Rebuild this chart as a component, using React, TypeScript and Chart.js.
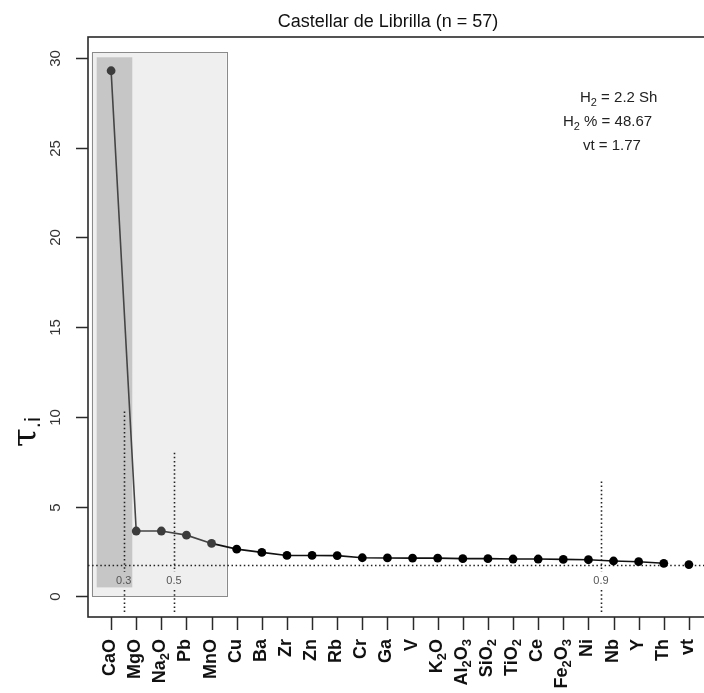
import { useEffect, useRef } from "react";
import { Chart, registerables } from "chart.js";

Chart.register(...registerables);

// ---- data ----
const categories = [
  "CaO", "MgO", "Na_2O", "Pb", "MnO", "Cu", "Ba", "Zr", "Zn", "Rb", "Cr", "Ga",
  "V", "K_2O", "Al_2O_3", "SiO_2", "TiO_2", "Ce", "Fe_2O_3", "Ni", "Nb", "Y", "Th", "vt",
];
const tauValues = [
  29.28, 3.64, 3.64, 3.41, 2.95, 2.63, 2.45, 2.28, 2.28, 2.27, 2.15, 2.14,
  2.13, 2.13, 2.1, 2.1, 2.08, 2.08, 2.06, 2.04, 1.97, 1.93, 1.84,
];
const vtValue = 1.77;
const yTicks = [0, 5, 10, 15, 20, 25, 30];
const cutoffLabels = ["0.3", "0.5", "0.9"];
const cutoffPositions = [1.5, 3.5, 20.5];
const cutoffHeights = [10.3, 8.0, 6.4];
const titleText = "Castellar de Librilla (n = 57)";
const statsLines = ["H_2 = 2.2 Sh", "H_2 % = 48.67", "vt = 1.77"];

// ---- layout / style constants ----
const FONT = "'Liberation Sans', Arial, sans-serif";
const CANVAS_W = 724;
const CANVAS_H = 693;
const lightRect = { x0: 0.227, x1: 5.6, y0: 0, y1: 30.3 };
const darkRect = { x0: 0.426, x1: 1.843, y0: 0.5, y1: 30.03 };
const statsPos = [
  { x: 580, y: 102 },
  { x: 563, y: 126 },
  { x: 583, y: 150 },
];

type Run = { t: string; sub: boolean };
function parseRich(s: string): Run[] {
  const runs: Run[] = [];
  for (let i = 0; i < s.length; i++) {
    if (s[i] === "_" && i + 1 < s.length) {
      runs.push({ t: s[i + 1], sub: true });
      i++;
    } else {
      const last = runs[runs.length - 1];
      if (last && !last.sub) last.t += s[i];
      else runs.push({ t: s[i], sub: false });
    }
  }
  return runs;
}

function richWidth(ctx: CanvasRenderingContext2D, runs: Run[], size: number, weight: string) {
  let w = 0;
  for (const r of runs) {
    ctx.font = `${weight} ${r.sub ? Math.round(size * 0.7) : size}px ${FONT}`;
    w += ctx.measureText(r.t).width;
  }
  return w;
}

function drawRich(
  ctx: CanvasRenderingContext2D,
  text: string,
  x: number,
  y: number,
  size: number,
  weight: string,
  align: "left" | "right"
) {
  const runs = parseRich(text);
  const w = richWidth(ctx, runs, size, weight);
  let cx = align === "right" ? x - w : x;
  ctx.textAlign = "left";
  for (const r of runs) {
    const s = r.sub ? Math.round(size * 0.7) : size;
    ctx.font = `${weight} ${s}px ${FONT}`;
    ctx.fillText(r.t, cx, r.sub ? y + size * 0.28 : y);
    cx += ctx.measureText(r.t).width;
  }
}

const overlay = {
  id: "overlay",
  beforeDatasetsDraw(chart: any) {
    const { ctx, chartArea } = chart;
    const xs = chart.scales.x;
    const ys = chart.scales.y;
    ctx.save();
    // light rectangle
    const lx0 = xs.getPixelForValue(lightRect.x0);
    const lx1 = xs.getPixelForValue(lightRect.x1);
    const ly0 = ys.getPixelForValue(lightRect.y0);
    const ly1 = ys.getPixelForValue(lightRect.y1);
    ctx.fillStyle = "#efefef";
    ctx.fillRect(lx0, ly1, lx1 - lx0, ly0 - ly1);
    ctx.strokeStyle = "#8a8a8a";
    ctx.lineWidth = 1;
    ctx.strokeRect(Math.round(lx0) + 0.5, Math.round(ly1) + 0.5, Math.round(lx1 - lx0), Math.round(ly0 - ly1));
    // dark rectangle
    const dx0 = xs.getPixelForValue(darkRect.x0);
    const dx1 = xs.getPixelForValue(darkRect.x1);
    const dy0 = ys.getPixelForValue(darkRect.y0);
    const dy1 = ys.getPixelForValue(darkRect.y1);
    ctx.fillStyle = "#c6c6c6";
    ctx.fillRect(dx0, dy1, dx1 - dx0, dy0 - dy1);

    // dotted lines
    ctx.strokeStyle = "#222";
    ctx.lineWidth = 1.6;
    ctx.setLineDash([1.5, 2.6]);
    const hy = Math.round(ys.getPixelForValue(vtValue)) + 0.5;
    ctx.beginPath();
    ctx.moveTo(chartArea.left, hy);
    ctx.lineTo(chartArea.right, hy);
    ctx.stroke();
    const labelY = ys.getPixelForValue(0.85);
    cutoffPositions.forEach((cx, i) => {
      const px = Math.round(xs.getPixelForValue(cx)) + 0.5;
      ctx.beginPath();
      ctx.moveTo(px, ys.getPixelForValue(cutoffHeights[i]));
      ctx.lineTo(px, labelY - 9);
      ctx.moveTo(px, labelY + 9);
      ctx.lineTo(px, chartArea.bottom - 3);
      ctx.stroke();
    });
    ctx.setLineDash([]);
    // cutoff labels
    ctx.fillStyle = "#555";
    ctx.font = `11px ${FONT}`;
    ctx.textAlign = "center";
    ctx.textBaseline = "middle";
    cutoffPositions.forEach((cx, i) => {
      const px = xs.getPixelForValue(cx);
      ctx.fillText(cutoffLabels[i], px, labelY);
    });
    ctx.restore();
  },
  afterDraw(chart: any) {
    const { ctx, chartArea } = chart;
    const xs = chart.scales.x;
    const ys = chart.scales.y;
    ctx.save();
    // box
    ctx.strokeStyle = "#2a2a2a";
    ctx.lineWidth = 1.6;
    ctx.strokeRect(chartArea.left, chartArea.top, chartArea.right - chartArea.left, chartArea.bottom - chartArea.top);
    // y ticks
    ctx.lineWidth = 1.5;
    ctx.fillStyle = "#333";
    ctx.font = `15px ${FONT}`;
    yTicks.forEach((v) => {
      const py = Math.round(ys.getPixelForValue(v)) + 0.5;
      ctx.beginPath();
      ctx.moveTo(chartArea.left - 12, py);
      ctx.lineTo(chartArea.left, py);
      ctx.stroke();
      ctx.save();
      ctx.translate(56, py);
      ctx.rotate(-Math.PI / 2);
      ctx.textAlign = "center";
      ctx.textBaseline = "middle";
      ctx.fillText(String(v), 0, 0);
      ctx.restore();
    });
    // x ticks and labels
    ctx.fillStyle = "#111";
    categories.forEach((c, i) => {
      const px = Math.round(xs.getPixelForValue(i + 1)) + 0.5;
      ctx.beginPath();
      ctx.moveTo(px, chartArea.bottom);
      ctx.lineTo(px, chartArea.bottom + 13);
      ctx.stroke();
      ctx.save();
      ctx.translate(px - 1, chartArea.bottom + 22);
      ctx.rotate(-Math.PI / 2);
      ctx.textBaseline = "middle";
      drawRich(ctx, c, 0, 0, 18, "bold", "right");
      ctx.restore();
    });
    // title
    ctx.fillStyle = "#111";
    ctx.font = `18px ${FONT}`;
    ctx.textAlign = "center";
    ctx.textBaseline = "alphabetic";
    ctx.fillText(titleText, 388, 27);
    // y axis title
    ctx.save();
    ctx.translate(27, 447);
    ctx.rotate(-Math.PI / 2);
    ctx.textBaseline = "middle";
    ctx.textAlign = "left";
    ctx.font = `34px 'DejaVu Serif', serif`;
    ctx.fillText("\u03C4", 0, 0);
    const tw = ctx.measureText("\u03C4").width;
    ctx.font = `22px ${FONT}`;
    ctx.fillText(".i", tw, 7);
    ctx.restore();
    // stats text
    ctx.fillStyle = "#222";
    ctx.textBaseline = "alphabetic";
    statsLines.forEach((s, i) => {
      drawRich(ctx, s, statsPos[i].x, statsPos[i].y, 15, "normal", "left");
    });
    ctx.restore();
  },
};

export default function App() {
  const ref = useRef<HTMLCanvasElement | null>(null);
  useEffect(() => {
    if (!ref.current) return;
    const lineData = tauValues.map((v, i) => ({ x: i + 1, y: v }));
    const chart = new Chart(ref.current, {
      type: "scatter",
      data: {
        datasets: [
          {
            data: lineData,
            showLine: true,
            borderColor: "#111",
            borderWidth: 1.6,
            pointRadius: 4.4,
            pointBorderWidth: 0,
            pointBackgroundColor: lineData.map((_, i) => (i < 5 ? "#3c3c3c" : "#000")),
            segment: {
              borderColor: (c: any) => (c.p0DataIndex < 4 ? "#444" : "#111"),
            },
          },
          {
            data: [{ x: categories.length, y: vtValue }],
            showLine: false,
            pointRadius: 4.4,
            pointBorderWidth: 0,
            pointBackgroundColor: "#000",
          },
        ],
      },
      options: {
        responsive: false,
        animation: false,
        devicePixelRatio: 1,
        layout: { padding: { left: 88, top: 37, right: CANVAS_W - 712, bottom: CANVAS_H - 617 } },
        scales: {
          x: { type: "linear", min: 0.08, max: 24.92, display: false },
          y: { type: "linear", min: -1.15, max: 31.16, display: false },
        },
        plugins: { legend: { display: false }, tooltip: { enabled: false } },
      },
      plugins: [overlay],
    } as any);
    return () => chart.destroy();
  }, []);
  return (
    <div
      style={{
        position: "fixed",
        left: 0,
        top: 0,
        width: 704,
        height: 693,
        overflow: "hidden",
        background: "#fff",
      }}
    >
      <canvas ref={ref} width={CANVAS_W} height={CANVAS_H} style={{ width: CANVAS_W, height: CANVAS_H, display: "block" }} />
    </div>
  );
}
